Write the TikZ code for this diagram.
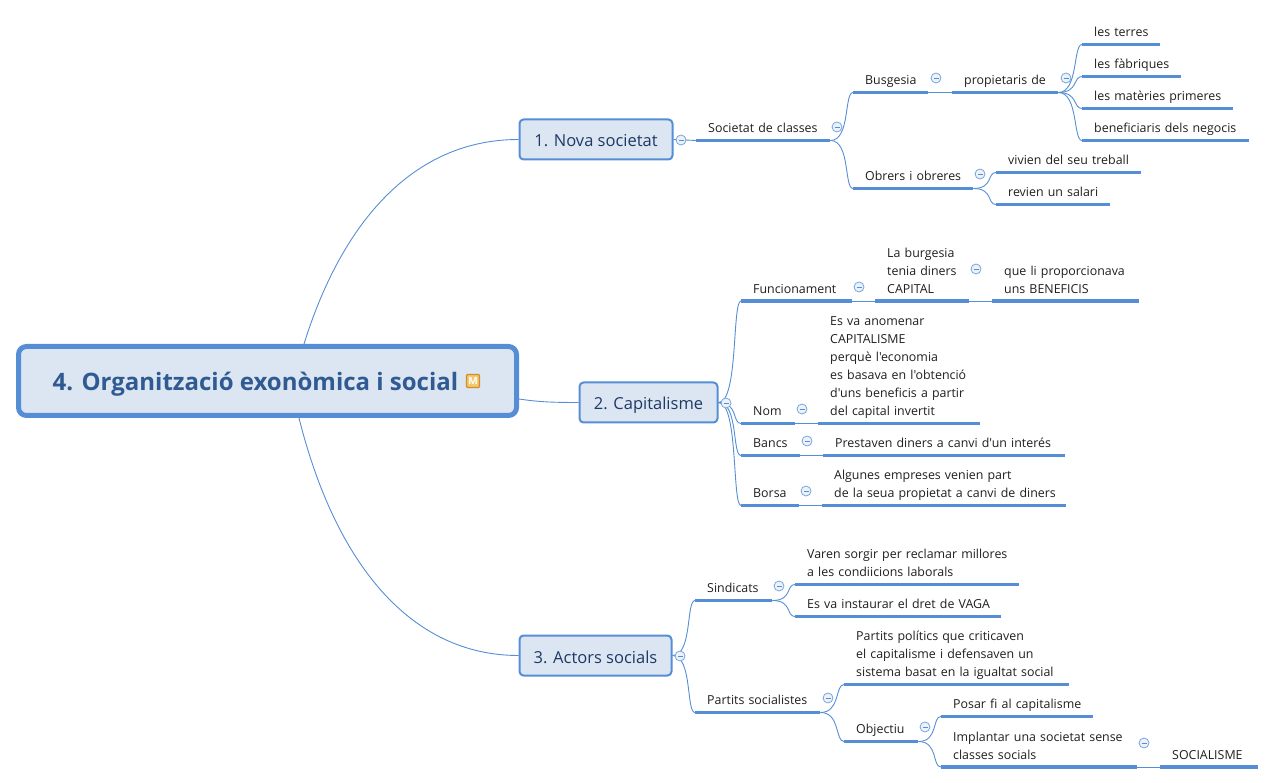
\documentclass[tikz,border=0pt]{standalone}
\usepackage{fontspec}
\newfontfamily\mapfont{Open Sans}
\usetikzlibrary{backgrounds}
\definecolor{mapblue}{HTML}{558ED5}
\definecolor{mapfill}{HTML}{DCE6F2}
\definecolor{roottext}{HTML}{2F5A92}
\definecolor{subtext}{HTML}{1F3864}
\definecolor{iconfill}{HTML}{F3C76C}
\definecolor{iconedge}{HTML}{CC8F2B}
\tikzset{
  topic/.style={anchor=south west,inner sep=0pt,align=left,font=\mapfont\fontsize{12.4}{18}\selectfont,text=black!88},
  bar/.style={draw=mapblue,line width=3.2pt},
  link/.style={draw=mapblue,line width=0.9pt},
  rootbox/.style={draw=mapblue,fill=mapfill,line width=5pt,rounded corners=8pt,minimum width=498pt,minimum height=69pt,inner sep=0pt,font=\mapfont\fontsize{24}{28}\selectfont\bfseries,text=roottext},
  mainbox/.style={draw=mapblue,fill=mapfill,line width=2pt,rounded corners=4pt,minimum height=40pt,inner sep=0pt,font=\mapfont\fontsize{16.5}{20}\selectfont,text=subtext},
  collapse/.style={circle,draw=mapblue!80,fill=mapfill!50,line width=0.8pt,minimum size=10pt,inner sep=0pt,
    path picture={\draw[mapblue,line width=0.7pt] ([xshift=-2.5pt]path picture bounding box.center) -- ([xshift=2.5pt]path picture bounding box.center);}},
  micon/.style={draw=iconedge,fill=iconfill,line width=1.4pt,rounded corners=1pt,minimum size=13pt,inner sep=0pt,font=\mapfont\fontsize{10}{10}\selectfont\bfseries,text=white}
}
\newcommand{\topicnode}[5]{%
  \node[topic,text width={(#3-#2-12)*1pt}] (#1) at (#2+12,#4+0.5) {#5\rule[-7.5pt]{0pt}{7.5pt}};
  \draw[bar] ([xshift=-12pt]#1.south west) -- (#1.south east);}
\newcommand{\branch}[2]{\draw[link] (#1.south east) .. controls +(20,0) and +(-9,0) .. ([xshift=-12pt]#2.south west);}
\newcommand{\straight}[2]{\draw[link] (#1.south east) -- ([xshift=-12pt]#2.south west);}
\newcommand{\fromtop}[2]{\draw[link] (#1.east) .. controls +(20,0) and +(-9,0) .. ([xshift=-12pt]#2.south west);}
\begin{document}
\begin{tikzpicture}[x=1pt,y=-1pt]
\useasboundingbox (0,0) rectangle (1275,783);
% main boxes
\node[rootbox] (root) at (267.5,381) {\raisebox{-10pt}[0pt][0pt]{4. Organització exonòmica i social}\mbox{}\hspace{24pt}\mbox{}};
\node[micon] (icon) at (473,381) {M};
\node[mainbox,minimum width=153pt] (nova) at (596,139.5) {\raisebox{-7.5pt}[0pt][0pt]{1. Nova societat}};
\node[mainbox,minimum width=138pt] (cap) at (648.5,402.5) {\raisebox{-7.5pt}[0pt][0pt]{2. Capitalisme}};
\node[mainbox,minimum width=152pt] (act) at (595.5,655.5) {\raisebox{-7.5pt}[0pt][0pt]{3. Actors socials}};
% branch 1
\topicnode{soc}{696}{830}{140}{Societat de classes}
\topicnode{bus}{853}{928}{92}{Busgesia}
\topicnode{prop}{952}{1058}{92}{propietaris de}
\topicnode{ter}{1082}{1160}{44}{les terres}
\topicnode{fab}{1082}{1181}{76}{les fàbriques}
\topicnode{mat}{1082}{1233}{108}{les matèries primeres}
\topicnode{ben}{1082}{1249}{140}{beneficiaris dels negocis}
\topicnode{obr}{853}{973}{188}{Obrers i obreres}
\topicnode{viv}{996}{1141}{172}{vivien del seu treball}
\topicnode{rev}{996}{1110}{204}{revien un salari}
% branch 2
\topicnode{fun}{741}{852}{300.5}{Funcionament}
\topicnode{lab}{875}{969}{300.5}{La burgesia\\tenia diners\\CAPITAL}
\topicnode{que}{992}{1139}{300.5}{que li proporcionava\\uns BENEFICIS}
\topicnode{nom}{741}{795}{423}{Nom}
\topicnode{esv}{818}{980}{423}{Es va anomenar\\CAPITALISME\\perquè l'economia\\es basava en l'obtenció\\d'uns beneficis a partir\\del capital invertit}
\topicnode{ban}{741}{800}{455}{Bancs}
\topicnode{pre}{823}{1065}{455}{Prestaven diners a canvi d'un interés}
\topicnode{bor}{741}{799}{505}{Borsa}
\topicnode{alg}{822}{1066}{505}{Algunes empreses venien part\\de la seua propietat a canvi de diners}
% branch 3
\topicnode{sin}{695}{772}{600}{Sindicats}
\topicnode{var}{795}{1019}{584}{Varen sorgir per reclamar millores\\a les condiicions laborals}
\topicnode{ins}{795}{1001}{616}{Es va instaurar el dret de VAGA}
\topicnode{par}{695}{820}{712}{Partits socialistes}
\topicnode{pol}{844}{1069}{684}{Partits polítics que criticaven\\el capitalisme i defensaven un\\sistema basat en la igualtat social}
\topicnode{obj}{844}{918}{741}{Objectiu}
\topicnode{pos}{941}{1093}{716}{Posar fi al capitalisme}
\topicnode{imp}{941}{1137}{766.5}{Implantar una societat sense\\classes socials}
\topicnode{soc2}{1160}{1258}{766.5}{SOCIALISME}
% collapse marks
\node[collapse] (c1) at (681,140) {};
\node[collapse] (c2) at (726,403) {};
\node[collapse] (c3) at (680,656) {};
\node[collapse] (c4) at (837,127) {};
\node[collapse] (c5) at (936,78) {};
\node[collapse] (c6) at (1066,78) {};
\node[collapse] (c7) at (980,174) {};
\node[collapse] (c8) at (859,287) {};
\node[collapse] (c9) at (976,269) {};
\node[collapse] (c10) at (802,409) {};
\node[collapse] (c11) at (807,441) {};
\node[collapse] (c12) at (806,491) {};
\node[collapse] (c13) at (779,586) {};
\node[collapse] (c14) at (828,698) {};
\node[collapse] (c15) at (925,727) {};
\node[collapse] (c16) at (1144,743) {};
% connectors
\begin{scope}[on background layer]
\draw[link] ([xshift=36.5pt]root.north) .. controls +(36,-116) and +(-109,0) .. (nova.west);
\draw[link] ([yshift=-18pt]root.east) .. controls +(20,3) and +(-25,0) .. (cap.west);
\draw[link] ([xshift=31.5pt]root.south) .. controls +(36,144) and +(-109,0) .. (act.west);
\draw[link] (nova.east) -- ([xshift=-12pt]soc.south west);
\branch{soc}{bus}\branch{soc}{obr}
\straight{bus}{prop}
\branch{prop}{ter}\branch{prop}{fab}\branch{prop}{mat}\branch{prop}{ben}
\branch{obr}{viv}\branch{obr}{rev}
\fromtop{cap}{fun}\fromtop{cap}{nom}\fromtop{cap}{ban}\fromtop{cap}{bor}
\straight{fun}{lab}\straight{lab}{que}\straight{nom}{esv}\straight{ban}{pre}\straight{bor}{alg}
\fromtop{act}{sin}\fromtop{act}{par}
\branch{sin}{var}\branch{sin}{ins}
\branch{par}{pol}\branch{par}{obj}
\branch{obj}{pos}\branch{obj}{imp}
\straight{imp}{soc2}
\end{scope}
\end{tikzpicture}
\end{document}
